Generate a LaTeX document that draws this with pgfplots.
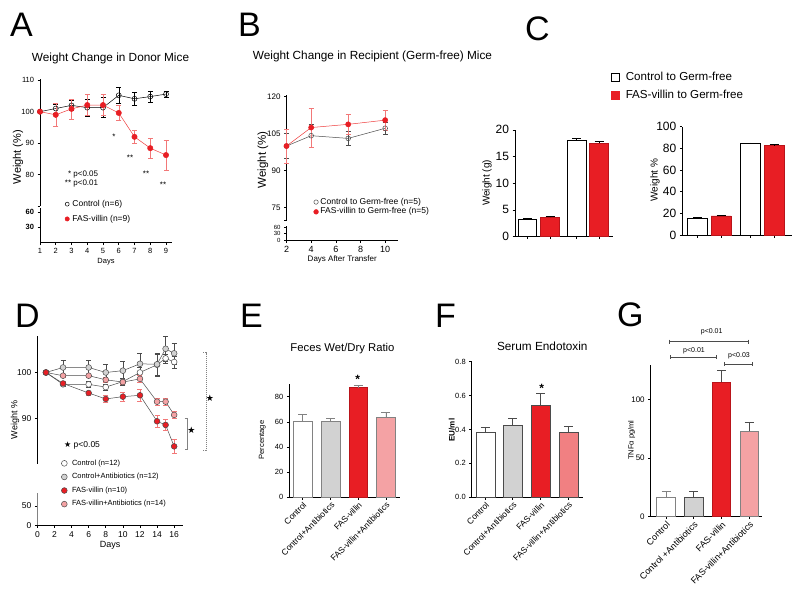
\documentclass[border=0pt]{standalone}
\usepackage{pgfplots}
\pgfplotsset{compat=1.18}
\usepackage{fontspec}
\setmainfont{Liberation Sans}
\newfontfamily\symfont{DejaVu Sans}

\definecolor{gpred}{RGB}{232,30,36}
\definecolor{gpredd}{RGB}{185,20,26}
\definecolor{lnred}{RGB}{238,60,60}
\definecolor{errred}{RGB}{242,120,120}
\definecolor{gppink}{RGB}{244,162,164}
\definecolor{gppinkF}{RGB}{241,128,130}
\definecolor{gpgray}{RGB}{210,210,210}
\definecolor{dgray}{RGB}{75,75,75}
\definecolor{mgray}{RGB}{130,130,130}

\newcommand{\fs}[1]{\fontsize{#1}{#1}\selectfont}

\pgfplotsset{
  /pgf/number format/assume math mode=true,
  gp/.style={scale only axis, anchor=south west, clip=false,
    axis y line*=left, axis x line*=bottom,
    axis line style={-, line width=0.6pt},
    tick align=outside, major tick length=2.5pt,
    every tick/.style={black, line width=0.6pt},
    tick label style={font=\fs{7.5}}},
  upper/.style={gp, axis x line=none},
  mleg/.style={legend cell align=left,
    legend image code/.code={\draw[mark repeat=2,mark phase=2,##1] plot coordinates {(0pt,0pt)(4pt,0pt)(8pt,0pt)};}},
  bleg/.style={legend cell align=left,
    legend image code/.code={\draw[##1] (0pt,-4pt) rectangle (8pt,4pt);}},
  gpbar/.style={ybar, bar shift=0pt, line width=0.6pt},
  eb/.style={/pgfplots/error bars/y dir=plus, /pgfplots/error bars/y explicit,
    /pgfplots/error bars/error bar style={line width=0.6pt, #1},
    /pgfplots/error bars/error mark options={rotate=90, line width=0.6pt, mark size=4.5pt, #1}},
  el/.style={/pgfplots/error bars/y dir=both, /pgfplots/error bars/y explicit,
    /pgfplots/error bars/error bar style={line width=0.5pt, #1},
    /pgfplots/error bars/error mark options={rotate=90, line width=0.5pt, mark size=2.5pt, #1}},
}

\begin{document}
\begin{tikzpicture}
\useasboundingbox (0pt,0pt) rectangle (800pt,-591pt);

% ---------------- A ----------------
\begin{axis}[upper, mleg, at={(40pt,-206pt)}, width=132pt, height=126.7pt,
  xmin=1, xmax=9.38, ymin=70, ymax=110.3,
  ytick={80,90,100,110}, extra y ticks={70}, extra y tick labels={},
  legend style={at={(0.188,0.051)}, anchor=north west, draw=none, fill=none,
    font=\fs{8.5}, inner sep=0pt, row sep=6pt,
    nodes={inner sep=0.5pt, text height=6pt, text depth=1.8pt},
    /tikz/every odd column/.append style={column sep=2.5pt}}]
\addplot[black, line width=0.5pt, mark=o, mark size=2.5pt,
  mark options={fill=white, line width=0.5pt}, forget plot, el=black] coordinates {
  (1,100) +- (0,0) (2,101.0) +- (0,1.5) (3,102.0) +- (0,1.5) (4,101.3) +- (0,2.7)
  (5,101.3) +- (0,3.2) (6,105.2) +- (0,2.6) (7,104.1) +- (0,2.0) (8,104.8) +- (0,1.8)
  (9,105.6) +- (0,1.0)};
\addplot[lnred, line width=0.5pt, mark=*, mark size=2.7pt,
  mark options={fill=gpred, draw=gpred}, forget plot, el=errred] coordinates {
  (1,100) +- (0,0) (2,99.0) +- (0,3.6) (3,100.9) +- (0,3.2) (4,102.1) +- (0,3.3)
  (5,102.1) +- (0,3.3) (6,99.6) +- (0,2.3) (7,92.0) +- (0,2.1) (8,88.4) +- (0,3.3)
  (9,86.2) +- (0,4.8)};
\addlegendimage{only marks, mark=o, mark size=2pt, mark options={black, fill=white, line width=0.5pt}}
\addlegendentry{Control (n=6)}
\addlegendimage{only marks, mark=*, mark size=2.2pt, mark options={gpred}}
\addlegendentry{FAS-villin (n=9)}
\end{axis}
\begin{axis}[gp, at={(40pt,-242.7pt)}, width=132pt, height=34.7pt,
  xmin=1, xmax=9.38, ymin=0, ymax=68, ytick={30,60}, xtick={1,...,9},
  yticklabel style={font=\bfseries\fs{7.5}},
  xlabel={Days}, xlabel style={font=\fs{7.5}, yshift=3pt}]
\end{axis}

% ---------------- B ----------------
\begin{axis}[upper, mleg, at={(286.5pt,-220pt)}, width=111.5pt, height=124.5pt,
  xmin=2, xmax=11.04, ymin=70, ymax=120.5,
  ytick={75,90,105,120}, extra y ticks={70}, extra y tick labels={},
  tick label style={font=\fs{8}},
  legend style={at={(0.242,0.181)}, anchor=north west, draw=none, fill=none,
    font=\fs{8.5}, inner sep=0pt, row sep=1pt,
    nodes={inner sep=0.5pt, text height=6pt, text depth=1.8pt},
    /tikz/every odd column/.append style={column sep=1.5pt}}]
\addplot[dgray, line width=0.5pt, mark=o, mark size=2.4pt,
  mark options={fill=white, line width=0.5pt}, forget plot, el=dgray] coordinates {
  (2,100) +- (0,5) (4,104.2) +- (0,4.5) (7,103.1) +- (0,2.9) (10,107.2) +- (0,2.5)};
\addplot[lnred, line width=0.5pt, mark=*, mark size=2.6pt,
  mark options={fill=gpred, draw=gpred}, forget plot, el=errred] coordinates {
  (2,100) +- (0,7) (4,107.5) +- (0,7.8) (7,108.8) +- (0,4) (10,110.5) +- (0,4)};
\addlegendimage{only marks, mark=o, mark size=2.2pt, mark options={dgray, fill=white, line width=0.5pt}}
\addlegendentry{Control to Germ-free (n=5)}
\addlegendimage{only marks, mark=*, mark size=2.4pt, mark options={gpred}}
\addlegendentry{FAS-villin to Germ-free (n=5)}
\end{axis}
\begin{axis}[gp, at={(286.5pt,-240pt)}, width=111.5pt, height=14pt,
  xmin=2, xmax=11.04, ymin=0, ymax=65, ytick={0,30,60}, xtick={2,4,...,10},
  yticklabel style={font=\fs{6}}, xticklabel style={font=\fs{9}},
  xlabel={Days After Transfer}, xlabel style={font=\fs{8}, yshift=4pt}]
\end{axis}

% ---------------- C ----------------
\begin{axis}[gp, at={(515pt,-236.5pt)}, width=98.3pt, height=106.7pt,
  xmin=0, xmax=98.3, ymin=0, ymax=20, ytick={0,5,...,20},
  xtick={12.5,35,61.7,84}, xticklabels={},
  tick label style={font=\fs{12}}]
\addplot[gpbar, bar width=18.5, fill=white, draw=black, eb=black] coordinates {(12.5,3.3) +- (0,0.15) (61.7,18.1) +- (0,0.25)};
\addplot[gpbar, bar width=18.5, fill=gpred, draw=gpredd, eb=black] coordinates {(35,3.6) +- (0,0.15) (84,17.5) +- (0,0.3)};
\end{axis}
\begin{axis}[gp, bleg, at={(682.3pt,-235pt)}, width=109.4pt, height=108.3pt,
  xmin=0, xmax=109.4, ymin=0, ymax=100, ytick={0,20,...,100},
  xtick={15.4,38.7,67.7,91.7}, xticklabels={},
  tick label style={font=\fs{12}},
  legend style={at={(-0.652,1.514)}, anchor=north west, draw=none, fill=none,
    font=\fs{11.6}, inner sep=0pt, row sep=6pt,
    nodes={inner sep=0.5pt, text height=8.5pt, text depth=2.5pt},
    /tikz/every odd column/.append style={column sep=5.5pt}}]
\addplot[gpbar, bar width=20, fill=white, draw=black, eb=black, forget plot] coordinates {(15.4,15.8) +- (0,0.4) (67.7,84.6) +- (0,0.4)};
\addplot[gpbar, bar width=20, fill=gpred, draw=gpredd, eb=black, forget plot] coordinates {(38.7,17.6) +- (0,0.6) (91.7,82.8) +- (0,0.5)};
\addlegendimage{fill=white, draw=black, line width=0.6pt}
\addlegendentry{Control to Germ-free}
\addlegendimage{fill=gpred, draw=gpred, line width=0.6pt}
\addlegendentry{FAS-villin to Germ-free}
\end{axis}

% ---------------- D ----------------
\begin{axis}[upper, mleg, at={(37.4pt,-463.7pt)}, width=145.3pt, height=127.7pt,
  xmin=0, xmax=17, ymin=80, ymax=108, ytick={90,100},
  tick label style={font=\fs{8.5}},
  legend style={at={(0.164,0.037)}, anchor=north west, draw=none, fill=none,
    font=\fs{7.5}, inner sep=0pt, row sep=5.3pt,
    nodes={inner sep=0.5pt, text height=5.5pt, text depth=1.8pt},
    /tikz/every odd column/.append style={column sep=4.3pt}}]
\addplot[dgray, line width=0.5pt, mark=*, mark size=2.9pt,
  mark options={fill=white, draw=dgray, line width=0.5pt}, forget plot, el=dgray] coordinates {
  (1,100) +- (0,0) (3,97.4) +- (0,0.5) (6,97.4) +- (0,0.6) (8,96.8) +- (0,0.6)
  (10,98.0) +- (0,0.7) (12,100.0) +- (0,1.2) (14,101.7) +- (0,2.5) (15,103.1) +- (0,1.0)
  (16,102.3) +- (0,1.3)};
\addplot[dgray, line width=0.5pt, mark=*, mark size=2.9pt,
  mark options={fill=gpgray, draw=dgray, line width=0.5pt}, forget plot, el=dgray] coordinates {
  (1,100) +- (0,0) (3,101.1) +- (0,1.5) (6,101.1) +- (0,1.5) (8,100.0) +- (0,1.7)
  (10,100.4) +- (0,2.0) (12,101.9) +- (0,2.3) (14,101.8) +- (0,2.3) (15,105.2) +- (0,2.7)
  (16,104.2) +- (0,2.3)};
\addplot[dgray, line width=0.5pt, mark=*, mark size=2.9pt,
  mark options={fill=gppink, draw=dgray, line width=0.5pt}, forget plot, el=errred] coordinates {
  (1,100) +- (0,0) (3,99.3) +- (0,0.3) (6,99.3) +- (0,0.3) (8,98.4) +- (0,0.5)
  (10,97.9) +- (0,0.5) (12,98.6) +- (0,0.7) (14,93.6) +- (0,0.8) (15,93.6) +- (0,0.8)
  (16,90.7) +- (0,0.7)};
\addplot[dgray, line width=0.5pt, mark=*, mark size=2.9pt,
  mark options={fill=gpred, draw=dgray, line width=0.5pt}, forget plot, el=errred] coordinates {
  (1,100) +- (0,0) (3,97.6) +- (0,0.4) (6,95.5) +- (0,0.4) (8,94.2) +- (0,0.8)
  (10,94.7) +- (0,1.0) (12,95.0) +- (0,1.4) (14,89.3) +- (0,1.3) (15,88.5) +- (0,1.2)
  (16,83.8) +- (0,1.6)};
\addlegendimage{only marks, mark=*, mark size=2.9pt, mark options={fill=white, draw=dgray, line width=0.5pt}}
\addlegendentry{Control (n=12)}
\addlegendimage{only marks, mark=*, mark size=2.9pt, mark options={fill=gpgray, draw=dgray, line width=0.5pt}}
\addlegendentry{Control+Antibiotics (n=12)}
\addlegendimage{only marks, mark=*, mark size=2.9pt, mark options={fill=gpred, draw=dgray, line width=0.5pt}}
\addlegendentry{FAS-villin (n=10)}
\addlegendimage{only marks, mark=*, mark size=2.9pt, mark options={fill=gppink, draw=dgray, line width=0.5pt}}
\addlegendentry{FAS-villin+Antibiotics (n=14)}
\end{axis}
\begin{axis}[gp, at={(37.4pt,-525.3pt)}, width=145.3pt, height=32.6pt,
  xmin=0, xmax=17, ymin=0, ymax=84.5, ytick={0,50}, xtick={0,2,...,16},
  tick label style={font=\fs{8.5}},
  y axis line style={mgray, line width=1pt},
  xlabel={Days}, xlabel style={font=\fs{9}, yshift=3pt}]
\end{axis}

% ---------------- E ----------------
\begin{axis}[gp, at={(289.3pt,-497.3pt)}, width=110.7pt, height=113.2pt,
  xmin=0, xmax=110.7, ymin=0, ymax=90, ytick={0,20,...,80},
  xtick={13.4,41.4,68.9,96.5},
  xticklabels={Control, Control+Antibiotics, FAS-villin, FAS-villin+Antibiotics},
  xticklabel style={rotate=45, anchor=north east, font=\fs{8.5}, inner sep=1pt}]
\addplot[gpbar, bar width=18.5, fill=white, draw=mgray, eb=mgray] coordinates {(13.4,60.7) +- (0,5.3)};
\addplot[gpbar, bar width=18.5, fill=gpgray, draw=mgray, eb=mgray] coordinates {(41.4,60.1) +- (0,2.6)};
\addplot[gpbar, bar width=18.5, fill=gpred, draw=gpredd, eb=mgray] coordinates {(68.9,87.2) +- (0,1.5)};
\addplot[gpbar, bar width=18.5, fill=gppink, draw=mgray, eb=mgray] coordinates {(96.5,63.8) +- (0,4.0)};
\end{axis}

% ---------------- F ----------------
\begin{axis}[gp, at={(471.7pt,-497.3pt)}, width=111pt, height=135.6pt,
  xmin=0, xmax=111, ymin=0, ymax=0.8, ytick={0,0.2,...,0.8},
  yticklabel style={/pgf/number format/.cd, fixed, fixed zerofill, precision=1},
  xtick={13.6,41,68.8,96.6},
  xticklabels={Control, Control+Antibiotics, FAS-villin, FAS-villin+Antibiotics},
  xticklabel style={rotate=45, anchor=north east, font=\fs{8.5}, inner sep=1pt}]
\addplot[gpbar, bar width=19, fill=white, draw=dgray, eb=dgray] coordinates {(13.6,0.381) +- (0,0.034)};
\addplot[gpbar, bar width=19, fill=gpgray, draw=dgray, eb=dgray] coordinates {(41,0.427) +- (0,0.039)};
\addplot[gpbar, bar width=19, fill=gpred, draw=dgray, eb=dgray] coordinates {(68.8,0.543) +- (0,0.070)};
\addplot[gpbar, bar width=19, fill=gppinkF, draw=dgray, eb=dgray] coordinates {(96.6,0.385) +- (0,0.034)};
\end{axis}

% ---------------- G ----------------
\begin{axis}[gp, at={(650.7pt,-516.7pt)}, width=111pt, height=151.3pt,
  xmin=0, xmax=111, ymin=0, ymax=129, ytick={0,50,100},
  tick label style={font=\fs{8}},
  xtick={15.3,43,70.8,98.5},
  xticklabels={Control, Control +Antibiotics, FAS-villin, FAS-villin+Antibiotics},
  xticklabel style={rotate=45, anchor=north east, font=\fs{9}, inner sep=1pt}]
\addplot[gpbar, bar width=18.5, fill=white, draw=mgray, eb=mgray] coordinates {(15.3,16.5) +- (0,5.4)};
\addplot[gpbar, bar width=18.5, fill=gpgray, draw=dgray, eb=dgray] coordinates {(43,16.5) +- (0,5.4)};
\addplot[gpbar, bar width=18.5, fill=gpred, draw=gpredd, eb=dgray] coordinates {(70.8,114.5) +- (0,10.5)};
\addplot[gpbar, bar width=18.5, fill=gppink, draw=mgray, eb=dgray] coordinates {(98.5,73.0) +- (0,7.4)};
\end{axis}

% ---------------- panel letters, titles, labels ----------------
\foreach \l/\x/\y in {A/10/37, B/238/37, C/525/41, D/15/327, E/240/327, F/435/327, G/617/326.5}
  \node[anchor=base west, inner sep=0pt, font=\fs{34}] at (\x pt,-\y pt) {\l};

\node[font=\fs{11.8}] at (110.5pt,-58pt) {Weight Change in Donor Mice};
\node[font=\fs{11.8}] at (372.5pt,-56pt) {Weight Change in Recipient (Germ-free) Mice};
\node[font=\fs{11.3}] at (342.5pt,-348.3pt) {Feces Wet/Dry Ratio};
\node[font=\fs{11.8}] at (542.3pt,-346.7pt) {Serum Endotoxin};

\node[rotate=90, font=\fs{11}] at (18pt,-157pt) {Weight (\%)};
\node[rotate=90, font=\fs{11.5}] at (263pt,-160pt) {Weight (\%)};
\node[rotate=90, font=\fs{10}] at (487pt,-183pt) {Weight (g)};
\node[rotate=90, font=\fs{10}] at (655pt,-180pt) {Weight \%};
\node[rotate=90, font=\fs{9}] at (15pt,-420pt) {Weight \%};
\node[rotate=90, font=\fs{7.6}] at (262.3pt,-440pt) {Percentage};
\node[rotate=90, font=\bfseries\fs{8}] at (451.7pt,-430pt) {EU/ml};
\node[rotate=90, font=\fs{7.5}] at (631.7pt,-440pt) {TNFα  pg/ml};

% A annotations
\node[anchor=base, font=\fs{8}] at (114pt,-139.4pt) {*};
\node[anchor=base, font=\fs{8}] at (130pt,-160.4pt) {**};
\node[anchor=base, font=\fs{8}] at (146pt,-176.4pt) {**};
\node[anchor=base, font=\fs{8}] at (163pt,-187.4pt) {**};
\node[anchor=base west, font=\fs{8}, inner sep=0pt] at (63pt,-176pt) {\makebox[8pt][r]{*} p<0.05};
\node[anchor=base west, font=\fs{8}, inner sep=0pt] at (63pt,-185pt) {\makebox[8pt][r]{**} p<0.01};

% D annotations
\node[anchor=west, font=\fs{8.5}, inner sep=0pt] at (64pt,-445pt) {{\symfont\fs{8}★} p<0.05};
\draw[mgray, line width=0.7pt] (184.5pt,-418.3pt) -- (187.3pt,-418.3pt) -- (187.3pt,-449pt) -- (184.5pt,-449pt);
\node[font=\symfont\fs{9}] at (191.5pt,-430.7pt) {★};
\draw[mgray, line width=0.7pt, dash pattern=on 1.2pt off 0.8pt] (203pt,-352.7pt) -- (206pt,-352.7pt) -- (206pt,-450pt) -- (203pt,-450pt);
\node[font=\symfont\fs{9}] at (210pt,-398.3pt) {★};

% E, F stars
\node[anchor=base, font=\bfseries\fs{12}] at (357.7pt,-383.3pt) {*};
\node[anchor=base, font=\bfseries\fs{12}] at (541.7pt,-392.3pt) {*};

% G brackets
\draw[dgray, line width=0.6pt] (669pt,-339.7pt) -- (669pt,-343.7pt) (669pt,-341.7pt) -- (748.7pt,-341.7pt) (748.7pt,-339.7pt) -- (748.7pt,-343.7pt);
\draw[dgray, line width=0.6pt] (670.7pt,-355.3pt) -- (670.7pt,-359.3pt) (670.7pt,-357.3pt) -- (716.7pt,-357.3pt) (716.7pt,-355.3pt) -- (716.7pt,-359.3pt);
\draw[dgray, line width=0.6pt] (724pt,-362pt) -- (724pt,-366pt) (724pt,-364pt) -- (752.7pt,-364pt) (752.7pt,-362pt) -- (752.7pt,-366pt);
\node[font=\fs{7}] at (711.7pt,-331.7pt) {p<0.01};
\node[font=\fs{7}] at (694pt,-351pt) {p<0.01};
\node[font=\fs{7}] at (739pt,-355.3pt) {p<0.03};
\end{tikzpicture}
\end{document}
